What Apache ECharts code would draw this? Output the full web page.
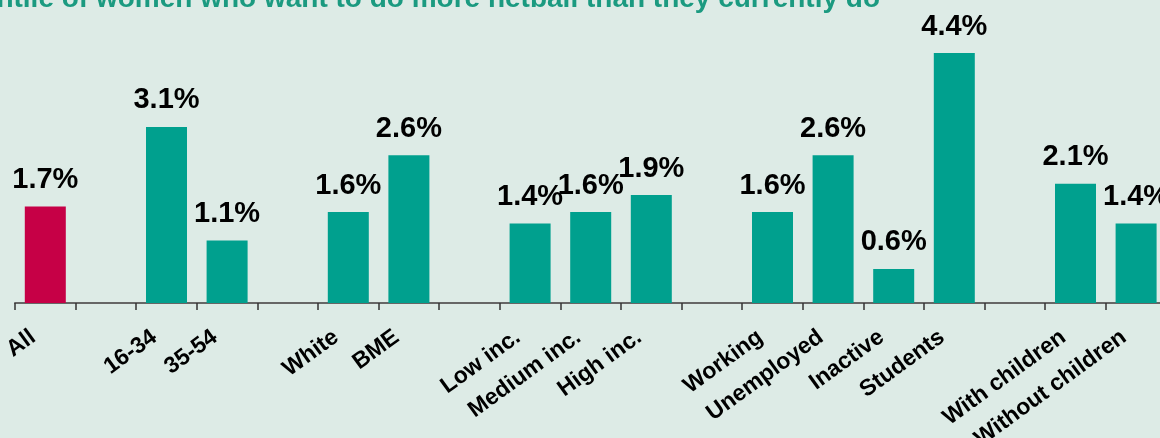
<!DOCTYPE html>
<html>
<head>
<meta charset="utf-8">
<script src="https://cdn.jsdelivr.net/npm/echarts@6/dist/echarts.min.js"></script>
<style>
  html, body { margin: 0; padding: 0; background: #ddebe6; }
  #chart { width: 1160px; height: 438px; }
</style>
</head>
<body>
<div id="chart"></div>
<script>
// Categories (empty strings are the gaps between groups)
var categories = ["All", "", "16-34", "35-54", "", "White", "BME", "",
  "Low inc.", "Medium inc.", "High inc.", "",
  "Working", "Unemployed", "Inactive", "Students", "",
  "With children", "Without children"];

// Percentage values, null for the gaps
var values = [1.7, null, 3.1, 1.1, null, 1.6, 2.6, null,
  1.4, 1.6, 1.9, null,
  1.6, 2.6, 0.6, 4.4, null,
  2.1, 1.4];

var titleText = "Percentile of women who want to do more netball than they currently do";

var teal = "#00a08e";
var crimson = "#c60046";

// Build bar data, first bar ("All") highlighted
var barData = values.map(function (v, i) {
  if (v === null) return null;
  return {
    value: v,
    itemStyle: { color: i === 0 ? crimson : teal }
  };
});

var chart = echarts.init(document.getElementById("chart"));

chart.setOption({
  backgroundColor: "#ddebe6",
  animation: false,
  title: {
    text: titleText,
    right: 275,
    top: -20,
    textStyle: {
      color: "#1b9a80",
      fontFamily: "Liberation Sans",
      fontWeight: "bold",
      fontSize: 28
    }
  },
  grid: {
    left: 15,
    right: -6.4,
    top: 19,
    bottom: 135,
    containLabel: false,
    outerBoundsMode: "none"
  },
  xAxis: {
    type: "category",
    data: categories,
    boundaryGap: true,
    axisLine: { lineStyle: { color: "#666", width: 2 } },
    axisTick: { show: true, alignWithLabel: false, interval: 0, length: 7, lineStyle: { color: "#333", width: 1.5 } },
    axisLabel: {
      interval: 0,
      rotate: 36,
      margin: 23,
      padding: [0, 15, 0, 0],
      color: "#000",
      fontFamily: "Liberation Sans",
      fontWeight: "bold",
      fontSize: 23
    }
  },
  yAxis: {
    type: "value",
    min: 0,
    max: 5,
    show: false,
    splitLine: { show: false }
  },
  series: [{
    type: "bar",
    data: barData,
    barWidth: 41,
    label: {
      show: true,
      position: "top",
      distance: 12,
      color: "#000",
      fontFamily: "Liberation Sans",
      fontWeight: "bold",
      fontSize: 29,
      formatter: function (p) { return p.value.toFixed(1) + "%"; }
    }
  }]
});
</script>
</body>
</html>
